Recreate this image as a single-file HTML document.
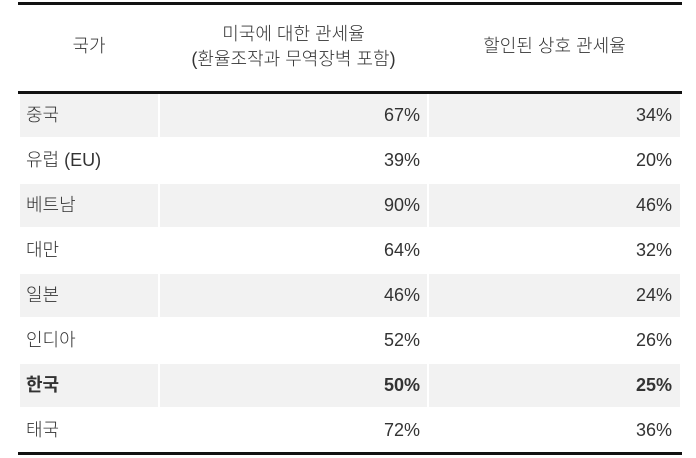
<!DOCTYPE html>
<html><head><meta charset="utf-8"><style>
body{margin:0;width:696px;height:458px;background:#fff;font-family:"Liberation Sans","Noto Sans CJK KR","NanumGothic",sans-serif;color:#333;position:relative;overflow:hidden}
.line{position:absolute;left:18px;width:664px;background:#111}
.c{position:absolute;height:43px;line-height:43px;font-size:18px;font-weight:300}
.s{background:#f2f2f2}
.h{position:absolute;text-align:center;font-size:18px;line-height:25px;font-weight:300}
</style></head><body>
<div class="line" style="top:2px;height:3px"></div>
<div class="line" style="top:91px;height:3px"></div>
<div class="line" style="top:452px;height:3px"></div>
<div class="h" style="left:20px;width:138px;top:34px">국가</div>
<div class="h" style="left:160px;width:267px;top:22px">미국에 대한 관세율<br>(환율조작과 무역장벽 포함)</div>
<div class="h" style="left:429px;width:251px;top:34px">할인된 상호 관세율</div>
<div id="rows"></div>
<script>
var d=[["중국","67%","34%"],["유럽 (EU)","39%","20%"],["베트남","90%","46%"],["대만","64%","32%"],["일본","46%","24%"],["인디아","52%","26%"],["한국","50%","25%",1],["태국","72%","36%"]];
var h="";d.forEach(function(r,i){var y=94+i*45,s=i%2==0?" s":"",b=r[3]?"font-weight:bold;":"";
h+='<div class="c'+s+'" style="'+b+'top:'+y+'px;left:20px;width:132px;padding-left:6px">'+r[0]+'</div>';
h+='<div class="c'+s+'" style="'+b+'top:'+y+'px;left:160px;width:260px;padding-right:7px;text-align:right">'+r[1]+'</div>';
h+='<div class="c'+s+'" style="'+b+'top:'+y+'px;left:429px;width:243px;padding-right:8px;text-align:right">'+r[2]+'</div>';});
document.getElementById("rows").innerHTML=h;
</script>
</body></html>
